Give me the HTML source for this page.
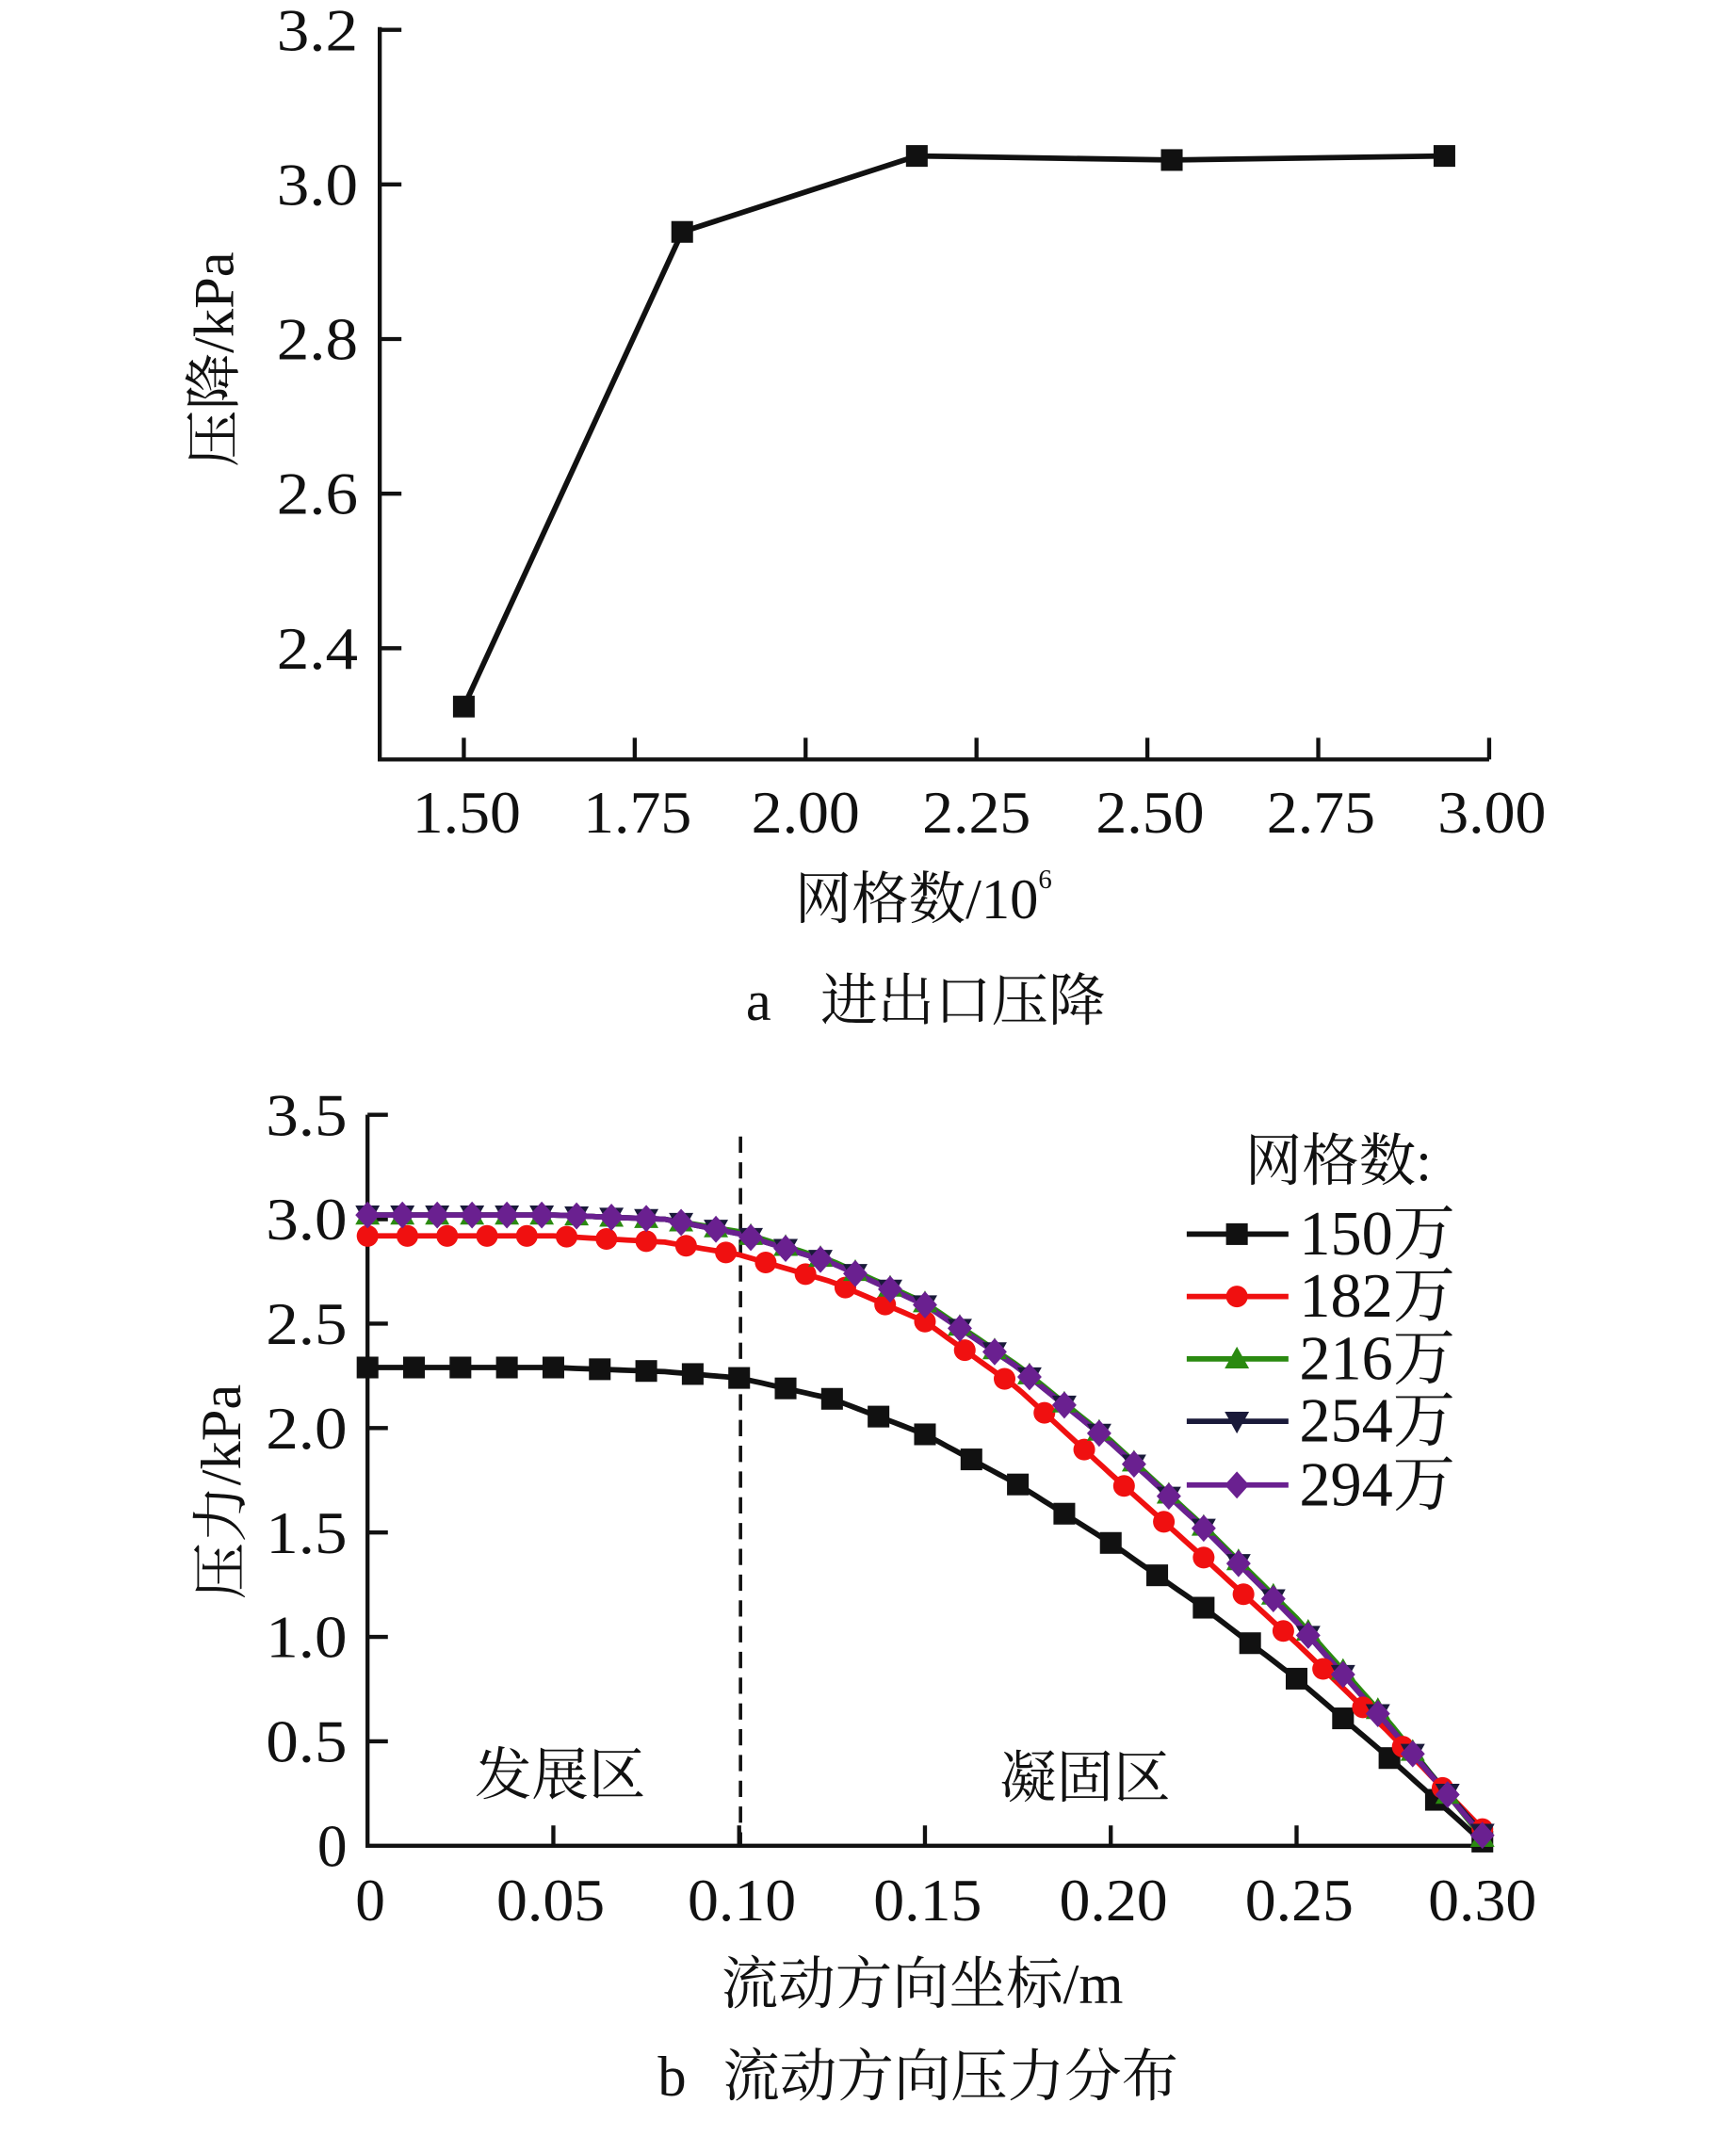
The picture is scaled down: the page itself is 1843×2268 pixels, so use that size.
<!DOCTYPE html>
<html><head><meta charset="utf-8"><style>
html,body{margin:0;padding:0;background:#fff}
svg{display:block}
text{font-family:"Liberation Serif","Noto Serif CJK SC","Noto Sans CJK SC",serif;fill:#111}
</style></head><body>
<svg id="s" width="1843" height="2268" viewBox="0 0 1280 1575" preserveAspectRatio="none" xmlns="http://www.w3.org/2000/svg">
<rect width="1280" height="1575" fill="#fff"/>
<!-- Chart a -->
<g stroke="#111" stroke-width="3" fill="none">
<path d="M280,20 V560 H1098"/>
<path d="M280,22 h16 M280,136 h16 M280,250 h16 M280,364 h16 M280,478 h16"/>
<path d="M342,560 v-16 M468,560 v-16 M594,560 v-16 M720,560 v-16 M846,560 v-16 M972,560 v-16 M1098,560 v-16"/>
<polyline stroke-width="4" points="342,521 503,171 676,115 864,118 1065,115"/>
</g>
<g fill="#111">
<rect x="334" y="513" width="16" height="16"/><rect x="495" y="163" width="16" height="16"/><rect x="668" y="107" width="16" height="16"/><rect x="856" y="110" width="16" height="16"/><rect x="1057" y="107" width="16" height="16"/>
</g>
<g font-size="44" text-anchor="end">
<text x="264" y="37" textLength="60" lengthAdjust="spacingAndGlyphs">3.2</text>
<text x="264" y="151" textLength="60" lengthAdjust="spacingAndGlyphs">3.0</text>
<text x="264" y="265" textLength="60" lengthAdjust="spacingAndGlyphs">2.8</text>
<text x="264" y="379" textLength="60" lengthAdjust="spacingAndGlyphs">2.6</text>
<text x="264" y="493" textLength="60" lengthAdjust="spacingAndGlyphs">2.4</text>
</g>
<g font-size="44" text-anchor="middle">
<text x="344" y="614" textLength="80" lengthAdjust="spacingAndGlyphs">1.50</text>
<text x="470" y="614" textLength="80" lengthAdjust="spacingAndGlyphs">1.75</text>
<text x="594" y="614" textLength="80" lengthAdjust="spacingAndGlyphs">2.00</text>
<text x="720" y="614" textLength="80" lengthAdjust="spacingAndGlyphs">2.25</text>
<text x="848" y="614" textLength="80" lengthAdjust="spacingAndGlyphs">2.50</text>
<text x="974" y="614" textLength="80" lengthAdjust="spacingAndGlyphs">2.75</text>
<text x="1100" y="614" textLength="80" lengthAdjust="spacingAndGlyphs">3.00</text>
</g>
<text x="586" y="677" font-size="42">网格数/10<tspan font-size="20" dy="-22">6</tspan></text>
<text x="550" y="752" font-size="42">a</text>
<text x="605" y="752" font-size="42">进出口压降</text>
<text transform="translate(172,265) rotate(-90)" font-size="42" text-anchor="middle">压降/kPa</text>

<!-- Chart b -->
<g stroke="#111" stroke-width="3" fill="none">
<path d="M271,822 V1361 H1093"/>
<path d="M271,822 h15 M271,899 h15 M271,976 h15 M271,1053 h15 M271,1130 h15 M271,1207 h15 M271,1284 h15"/>
<path d="M408,1361 v-15 M545,1361 v-15 M682,1361 v-15 M819,1361 v-15 M956,1361 v-15 M1093,1361 v-15"/>
<path d="M546,838 V1361" stroke-width="2.5" stroke-dasharray="12,7"/>
</g>
<g id="series"></g>
<g font-size="44" text-anchor="end">
<text x="256" y="837" textLength="60" lengthAdjust="spacingAndGlyphs">3.5</text>
<text x="256" y="914" textLength="60" lengthAdjust="spacingAndGlyphs">3.0</text>
<text x="256" y="991" textLength="60" lengthAdjust="spacingAndGlyphs">2.5</text>
<text x="256" y="1068" textLength="60" lengthAdjust="spacingAndGlyphs">2.0</text>
<text x="256" y="1145" textLength="60" lengthAdjust="spacingAndGlyphs">1.5</text>
<text x="256" y="1222" textLength="60" lengthAdjust="spacingAndGlyphs">1.0</text>
<text x="256" y="1299" textLength="60" lengthAdjust="spacingAndGlyphs">0.5</text>
<text x="256" y="1376">0</text>
</g>
<g font-size="44" text-anchor="middle">
<text x="273" y="1416">0</text>
<text x="406" y="1416" textLength="80" lengthAdjust="spacingAndGlyphs">0.05</text>
<text x="547" y="1416" textLength="80" lengthAdjust="spacingAndGlyphs">0.10</text>
<text x="684" y="1416" textLength="80" lengthAdjust="spacingAndGlyphs">0.15</text>
<text x="821" y="1416" textLength="80" lengthAdjust="spacingAndGlyphs">0.20</text>
<text x="958" y="1416" textLength="80" lengthAdjust="spacingAndGlyphs">0.25</text>
<text x="1093" y="1416" textLength="80" lengthAdjust="spacingAndGlyphs">0.30</text>
</g>
<text x="413" y="1323" font-size="42" text-anchor="middle">发展区</text>
<text x="800" y="1325" font-size="42" text-anchor="middle">凝固区</text>
<text x="680" y="1477" font-size="42" text-anchor="middle">流动方向坐标/m</text>
<text x="485" y="1545" font-size="42">b</text>
<text x="533" y="1545" font-size="42">流动方向压力分布</text>
<text transform="translate(177,1100) rotate(-90)" font-size="42" text-anchor="middle">压力/kPa</text>
<text x="918" y="870" font-size="42">网格数:</text>
<g id="legend"></g>
<g font-size="46">
<text x="958" y="925">150万</text>
<text x="958" y="971">182万</text>
<text x="958" y="1017">216万</text>
<text x="958" y="1063">254万</text>
<text x="958" y="1110">294万</text>
</g>
</svg>
<script>
var NS="http://www.w3.org/2000/svg";
var xs=[0,0.05,0.08,0.1,0.125,0.15,0.175,0.2,0.225,0.25,0.275,0.3];
var S=[
 {c:"#111",m:"sq",n:24,v:[2.29,2.29,2.27,2.24,2.14,1.97,1.73,1.45,1.14,0.80,0.42,0.02]},
 {c:"#f01010",m:"ci",n:28,v:[2.92,2.92,2.89,2.83,2.70,2.51,2.19,1.78,1.38,0.97,0.54,0.08]},
 {c:"#2a8a10",m:"tu",n:32,v:[3.02,3.02,3.0,2.94,2.80,2.60,2.30,1.94,1.53,1.09,0.59,0.04]},
 {c:"#1a1a3a",m:"td",n:32,v:[3.02,3.02,3.0,2.93,2.79,2.59,2.29,1.93,1.52,1.07,0.57,0.06]},
 {c:"#6a2090",m:"di",n:32,v:[3.02,3.02,3.0,2.93,2.79,2.59,2.29,1.93,1.52,1.07,0.57,0.05]}
];
function f(s,x){for(var i=0;i<xs.length-1;i++){if(x<=xs[i+1]){var t=(x-xs[i])/(xs[i+1]-xs[i]);return s.v[i]+t*(s.v[i+1]-s.v[i]);}}return s.v[s.v.length-1];}
function X(x){return 271+x/0.3*822}
function Y(p){return 1361-p*154}
function el(n,a,p){var e=document.createElementNS(NS,n);for(var k in a)e.setAttribute(k,a[k]);p.appendChild(e);return e}
function mk(s,cx,cy,p){
 if(s.m=="sq")el("rect",{x:cx-8,y:cy-8,width:16,height:16,fill:s.c},p);
 else if(s.m=="ci")el("circle",{cx:cx,cy:cy,r:8,fill:s.c},p);
 else if(s.m=="tu")el("polygon",{points:(cx-9)+","+(cy+7)+" "+(cx+9)+","+(cy+7)+" "+cx+","+(cy-9),fill:s.c},p);
 else if(s.m=="td")el("polygon",{points:(cx-9)+","+(cy-7)+" "+(cx+9)+","+(cy-7)+" "+cx+","+(cy+9),fill:s.c},p);
 else el("polygon",{points:cx+","+(cy-10)+" "+(cx+9)+","+cy+" "+cx+","+(cy+10)+" "+(cx-9)+","+cy,fill:s.c},p);
}
var g=document.getElementById("series");
S.forEach(function(s){
 var pts=[];for(var i=0;i<=150;i++){var x=0.3*i/150;pts.push(X(x).toFixed(1)+","+Y(f(s,x)).toFixed(1));}
 el("polyline",{points:pts.join(" "),fill:"none",stroke:s.c,"stroke-width":4},g);
});
S.forEach(function(s){
 for(var k=0;k<=s.n;k++){var x=0.3*k/s.n;mk(s,X(x),Y(f(s,x)),g);}
});
var L=document.getElementById("legend");
S.forEach(function(s,i){var y=[910,956,1002,1048,1095][i];
 el("line",{x1:875,y1:y,x2:950,y2:y,stroke:s.c,"stroke-width":4},L);mk(s,912,y,L);});
</script>
</body></html>
